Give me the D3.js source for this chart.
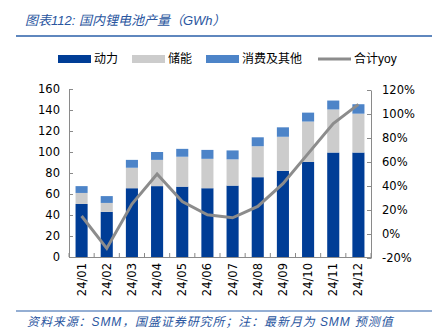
<!DOCTYPE html>
<html>
<head>
<meta charset="utf-8">
<script src="https://cdn.jsdelivr.net/npm/d3@7"></script>
<style>
  body { margin: 0; background: #fff; }
  svg text { font-family: "Liberation Sans", "Noto Sans CJK SC", sans-serif; }
</style>
</head>
<body>
<div id="chart"></div>
<script>
var months = ["24/01","24/02","24/03","24/04","24/05","24/06","24/07","24/08","24/09","24/10","24/11","24/12"];
var power   = [50.5, 43, 65.5, 67.5, 67, 65.5, 68, 76, 82, 90.5, 99.5, 99.5];
var storage = [10.5, 8.5, 19.5, 25, 28.5, 28, 25, 29.5, 32.5, 38.5, 41, 37];
var other   = [6.5, 6.5, 7.5, 7.5, 7.5, 8.5, 8.5, 8.5, 9, 8.5, 8.5, 9];
var yoy     = [15, -12, 25, 50, 27, 16, 13.5, 23, 42, 67, 92, 108];
var leftTicks  = [0, 20, 40, 60, 80, 100, 120, 140, 160];
var rightTicks = [-20, 0, 20, 40, 60, 80, 100, 120];
var seriesNames = ["动力", "储能", "消费及其他", "合计yoy"];
var colors = ["#003d96", "#cccccc", "#4d84c8", "#8c8c8c"];

var svg = d3.select("#chart").append("svg")
    .attr("width", 437)
    .attr("height", 335);

var box = {xmin: 69, xmax: 371, ymin: 89, ymax: 257};

var x = d3.scaleBand()
    .domain(months)
    .range([box.xmin, box.xmax])
    .paddingInner(0.52)
    .paddingOuter(0.26);
var y = d3.scaleLinear().domain([0, 160]).range([box.ymax, box.ymin]);
var y2 = d3.scaleLinear().domain([-20, 120]).range([box.ymax + 1, box.ymin + 1]);

// title
svg.append("text")
    .attr("x", 25).attr("y", 25)
    .attr("fill", "#2a56a0")
    .style("font-size", "13px")
    .style("font-style", "italic")
    .text("图表112:  国内锂电池产量（GWh）");
svg.append("line")
    .attr("x1", 16).attr("x2", 432).attr("y1", 36).attr("y2", 36)
    .attr("stroke", "#2a5fa8").attr("stroke-width", 1.5);

// stacked bars
var stackData = months.map(function(m, i) { return {m: m, a: power[i], b: storage[i], c: other[i]}; });
var stack = d3.stack().keys(["a", "b", "c"])(stackData);
svg.selectAll(".layer")
    .data(stack)
    .enter().append("g")
        .attr("fill", function(d, i) { return colors[i]; })
    .selectAll("rect")
    .data(function(d) { return d; })
    .enter().append("rect")
        .attr("x", function(d) { return x(d.data.m); })
        .attr("width", x.bandwidth())
        .attr("y", function(d) { return y(d[1]); })
        .attr("height", function(d) { return y(d[0]) - y(d[1]); });

// axes
var axisColor = "#8a8a8a";
var gl = svg.append("g").attr("transform", "translate(" + box.xmin + ",0)")
    .call(d3.axisLeft(y).tickValues(leftTicks).tickSizeInner(-4).tickSizeOuter(0).tickPadding(9));
var gr = svg.append("g").attr("transform", "translate(" + box.xmax + ",0)")
    .call(d3.axisRight(y2).tickValues(rightTicks).tickFormat(function(d) { return d + "%"; })
        .tickSizeInner(-4).tickSizeOuter(0).tickPadding(11));
var gx = svg.append("g").attr("transform", "translate(0," + box.ymax + ")")
    .call(d3.axisBottom(x).tickSize(0).tickPadding(6));

// x ticks at category boundaries
svg.selectAll(".xtick")
    .data(d3.range(months.length + 1))
    .enter().append("line")
        .attr("x1", function(i) { return box.xmin + i * (box.xmax - box.xmin) / months.length; })
        .attr("x2", function(i) { return box.xmin + i * (box.xmax - box.xmin) / months.length; })
        .attr("y1", box.ymax).attr("y2", box.ymax - 4)
        .attr("stroke", axisColor);

[gl, gr, gx].forEach(function(g) {
    g.selectAll("path.domain").attr("stroke", axisColor);
    g.selectAll("line").attr("stroke", axisColor);
    g.selectAll("text").attr("fill", "#000")
        .style("font-family", "'DejaVu Sans', sans-serif").style("font-size", "11.5px");
});
gx.select("path.domain").attr("d", "M" + box.xmin + ",0.5H" + box.xmax);
gx.selectAll("text")
    .attr("transform", "rotate(-90)")
    .attr("text-anchor", "end")
    .attr("dy", "0.35em")
    .attr("x", -6)
    .attr("y", 0);

// yoy line
var line = d3.line()
    .x(function(d, i) { return x(months[i]) + x.bandwidth() / 2; })
    .y(function(d) { return y2(d); });
svg.append("path")
    .datum(yoy)
    .attr("d", line)
    .attr("fill", "none")
    .attr("stroke", colors[3])
    .attr("stroke-width", 3);

// legend
var legendX = [58, 132, 206, 318];
var legend = svg.selectAll(".legend")
    .data(seriesNames)
    .enter().append("g")
        .attr("transform", function(d, i) { return "translate(" + legendX[i] + ",59)"; });
legend.append("rect")
    .attr("x", 0).attr("y", -4)
    .attr("width", function(d, i) { return i == 3 ? 0 : 33; })
    .attr("height", 8)
    .attr("fill", function(d, i) { return colors[i]; });
legend.filter(function(d, i) { return i == 3; }).append("line")
    .attr("x1", 0).attr("x2", 33).attr("y1", 0).attr("y2", 0)
    .attr("stroke", colors[3]).attr("stroke-width", 3);
legend.append("text")
    .attr("x", 36).attr("y", 0).attr("dy", "0.36em")
    .style("font-size", "12px")
    .text(function(d) { return d; });

// footer
svg.append("line")
    .attr("x1", 16).attr("x2", 432).attr("y1", 311).attr("y2", 311)
    .attr("stroke", "#2a5fa8").attr("stroke-width", 1.2);
svg.append("text")
    .attr("x", 27).attr("y", 326)
    .attr("fill", "#2a56a0")
    .style("font-size", "12px")
    .style("letter-spacing", "0.9px")
    .style("font-style", "italic")
    .text("资料来源：SMM，国盛证券研究所；注：最新月为 SMM 预测值");
</script>
</body>
</html>
